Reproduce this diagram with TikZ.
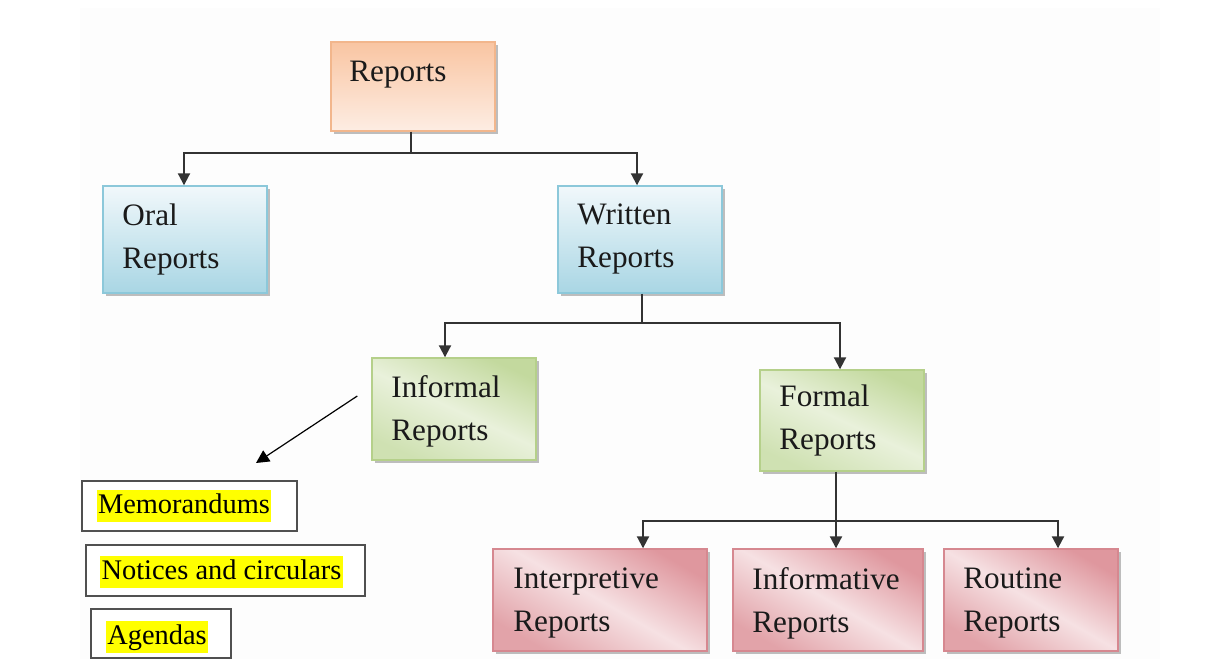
\documentclass[tikz,border=0pt]{standalone}
\usepackage{fontspec}
\setmainfont{Liberation Serif}
\usetikzlibrary{arrows.meta,shadows,calc}
\definecolor{txt}{HTML}{1A1A1A}
\definecolor{connc}{HTML}{333333}
\definecolor{bgc}{HTML}{FDFDFD}
\definecolor{orD}{HTML}{F2B68C}
\definecolor{orT}{HTML}{F9C5A2}
\definecolor{orB}{HTML}{FDEDE3}
\definecolor{blD}{HTML}{8CC8DA}
\definecolor{blT}{HTML}{F1F8FB}
\definecolor{blB}{HTML}{A9D6E4}
\definecolor{grD}{HTML}{B5D08A}
\definecolor{grT}{HTML}{C3D99E}
\definecolor{grM}{HTML}{E9F1DB}
\definecolor{grB}{HTML}{CFE1B2}
\definecolor{rdD}{HTML}{D68890}
\definecolor{rdT}{HTML}{DF979E}
\definecolor{rdM}{HTML}{F6E1E3}
\definecolor{rdB}{HTML}{E2A3A9}
\definecolor{hl}{HTML}{FFFF00}
\definecolor{frame}{HTML}{505050}
\begin{document}
\begin{tikzpicture}[x=0.5pt,y=-0.5pt,
  box/.style={draw, line width=0.7pt, inner sep=0pt,
    drop shadow={shadow xshift=1.6pt,shadow yshift=-1.6pt,fill=black,opacity=0.25}},
  orbox/.style={box, draw=orD, top color=orT, bottom color=orB},
  blbox/.style={box, draw=blD, top color=blT, bottom color=blB},
  grbox/.style={box, draw=grD, top color=grT, bottom color=grB, middle color=grM, shading angle=-25},
  rdbox/.style={box, draw=rdD, top color=rdT, bottom color=rdB, middle color=rdM, shading angle=-30},
  lbl/.style={anchor=north west, inner sep=0pt, align=left, text=txt,
    font=\rmfamily\fontsize{15.6}{21.5}\selectfont},
  listbox/.style={draw=frame, line width=0.75pt, fill=white, inner sep=0pt},
  hltext/.style={fill=hl, inner xsep=0.6pt, inner ysep=0.4pt, text height=11pt, text depth=3.8pt,
    font=\rmfamily\fontsize{14.2}{17}\selectfont, text=black},
  conn/.style={draw=connc, line width=1pt},
  arr/.style={conn, -{Triangle[length=6pt,width=6pt]}}
]
\useasboundingbox (0,0) rectangle (1208,659);
\fill[bgc] (80,8) rectangle (1160,659);

% boxes
\node[orbox, minimum width=82pt, minimum height=44.5pt] (rep) at (413,86.5) {};
\node[blbox, minimum width=82pt, minimum height=53.5pt] (oral) at (185,239.5) {};
\node[blbox, minimum width=82pt, minimum height=53.5pt] (written) at (640,239.5) {};
\node[grbox, minimum width=82pt, minimum height=51pt] (informal) at (454,409) {};
\node[grbox, minimum width=82pt, minimum height=50.5pt] (formal) at (842,420.5) {};
\node[rdbox, minimum width=107pt, minimum height=51pt] (interp) at (600,600) {};
\node[rdbox, minimum width=95pt, minimum height=51pt] (informa) at (828,600) {};
\node[rdbox, minimum width=87pt, minimum height=51pt] (routine) at (1031,600) {};

% labels
\node[lbl] (repT) at (349,61) {Reports};
\node[lbl] (oralT) at (122,203) {Oral\\Reports};
\node[lbl] (writtenT) at (577,203) {Written\\Reports};
\node[lbl] (informalT) at (391,375) {Informal\\Reports};
\node[lbl] (formalT) at (779,384) {Formal\\Reports};
\node[lbl] (interpT) at (513,567) {Interpretive\\Reports};
\node[lbl] (informaT) at (752,567) {Informative\\Reports};
\node[lbl] (routineT) at (963,567) {Routine\\Reports};

% list boxes
\node[listbox, minimum width=107.5pt, minimum height=25pt] (memo) at (189.5,506) {};
\node[listbox, minimum width=139.5pt, minimum height=25.5pt] (notices) at (225.5,570.5) {};
\node[listbox, minimum width=70pt, minimum height=24.5pt] (agendas) at (161,633.5) {};
\node[hltext] (memoT) at (184,506) {Memorandums};
\node[hltext] (noticesT) at (221.5,572) {Notices and circulars};
\node[hltext] (agendasT) at (157,637) {Agendas};

% connectors
\coordinate (j1) at (411,153);
\draw[conn] (rep.south -| j1) -- (j1);
\draw[arr] (j1) -| ($(oral.north)+(-1,0)$);
\draw[arr] (j1) -| ($(written.north)+(-3,0)$);

\coordinate (j2) at (642,323);
\draw[conn] (written.south -| j2) -- (j2);
\draw[arr] (j2) -| ($(informal.north)+(-9,0)$);
\draw[arr] (j2) -| ($(formal.north)+(-2,0)$);

\coordinate (j3) at (836,521);
\draw[conn] (formal.south -| j3) -- (j3);
\draw[arr] (j3) -| ($(interp.north)+(43,0)$);
\draw[arr] (j3) -- ($(informa.north)+(8,0)$);
\draw[arr] (j3) -| ($(routine.north)+(27,0)$);

\coordinate (d2) at (256,463);
\draw[draw=black, line width=0.6pt, -{Triangle[length=6.5pt,width=6.5pt]}] ($(informal.west)+(-14,-13)$) -- (d2);
\end{tikzpicture}
\end{document}
